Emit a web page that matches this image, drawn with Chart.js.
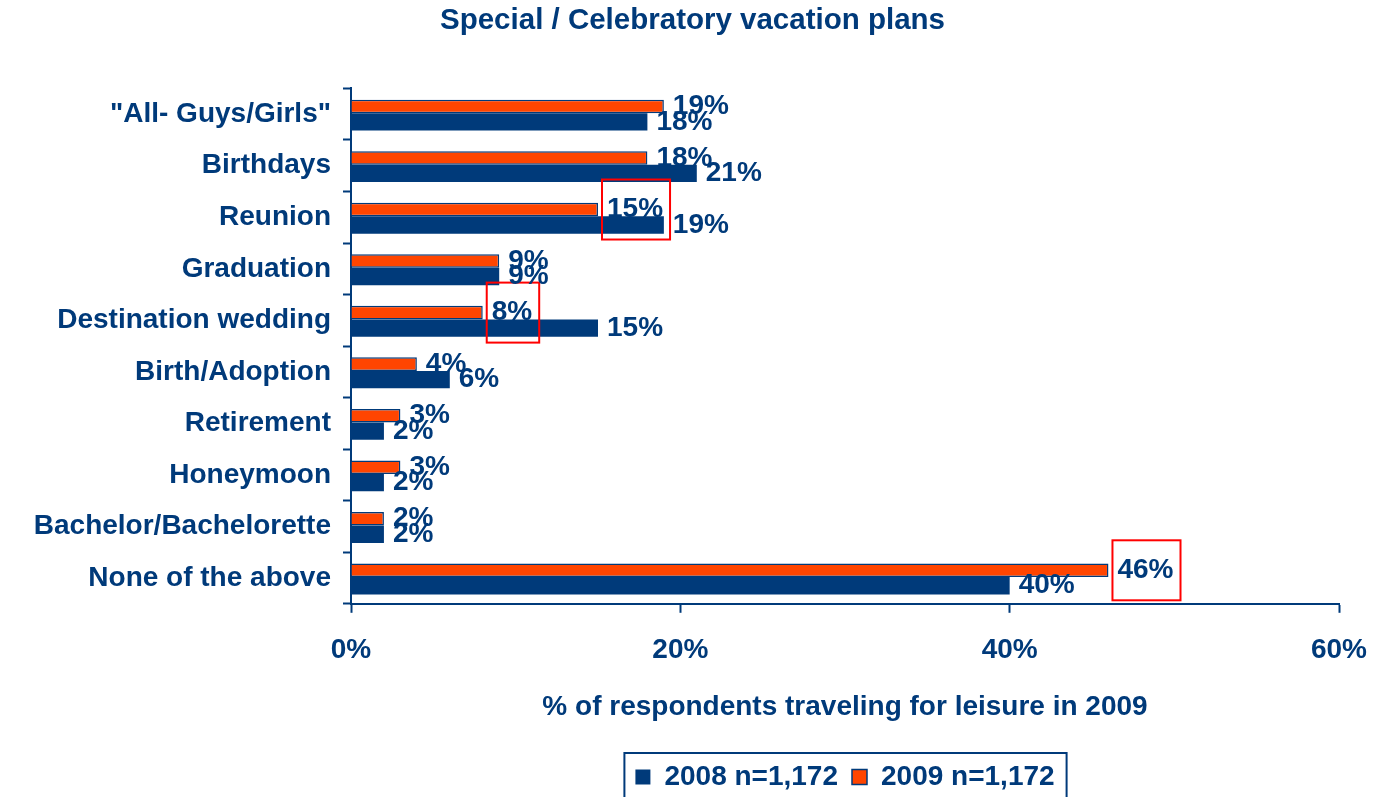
<!DOCTYPE html>
<html>
<head>
<meta charset="utf-8">
<title>Special / Celebratory vacation plans</title>
<script src="https://cdn.jsdelivr.net/npm/chart.js@4"></script>
<style>
  html, body { margin: 0; padding: 0; background: #fff; overflow: hidden; }
  #wrap { position: relative; width: 1375px; height: 801px; }
</style>
</head>
<body>
<div id="wrap"><canvas id="vacationChart"></canvas></div>
<script>
// Data
const categories = [
  '"All- Guys/Girls"',
  "Birthdays",
  "Reunion",
  "Graduation",
  "Destination wedding",
  "Birth/Adoption",
  "Retirement",
  "Honeymoon",
  "Bachelor/Bachelorette",
  "None of the above",
];
const values2008 = [18, 21, 19, 9, 15, 6, 2, 2, 2, 40];
const values2009 = [19, 18, 15, 9, 8, 4, 3, 3, 2, 46];
const xTicks = [0, 20, 40, 60];
const boxed2009 = ["Reunion", "Destination wedding", "None of the above"];

const NAVY = "#003A7A";
const ORANGE = "#FF4500";
const FONT = "'Liberation Sans', Arial, Helvetica, sans-serif";

Chart.defaults.font.family = FONT;
Chart.defaults.font.weight = "bold";
Chart.defaults.font.size = 28;
Chart.defaults.color = NAVY;

// Value labels at the bar ends, with red frames on the highlighted 2009 values
const valueLabels = {
  id: "valueLabels",
  afterDatasetsDraw(chart) {
    const ctx = chart.ctx;
    ctx.save();
    ctx.font = "bold 28px " + FONT;
    ctx.textAlign = "left";
    ctx.textBaseline = "middle";
    chart.data.datasets.forEach((ds, di) => {
      const meta = chart.getDatasetMeta(di);
      meta.data.forEach((bar, i) => {
        const text = ds.data[i] + "%";
        ctx.fillStyle = NAVY;
        ctx.fillText(text, bar.x + 9, bar.y);
        if (di === 0 && boxed2009.includes(categories[i])) {
          const w = ctx.measureText(text).width;
          ctx.strokeStyle = "#FF0000";
          ctx.lineWidth = 2;
          ctx.strokeRect(bar.x + 4, bar.y - 30, w + 12, 60);
        }
      });
    });
    ctx.restore();
  },
};

// Centre the legend under the plot area and frame it; nudge the title right
const legendFrame = {
  id: "legendFrame",
  afterLayout(chart) {
    chart.legend.left = chart.chartArea.left;
    chart.legend.right = chart.chartArea.right;
    chart.titleBlock.left = 0;
    chart.titleBlock.right = chart.width + 10;
  },
  afterDraw(chart) {
    const boxes = chart.legend.legendHitBoxes;
    if (!boxes || !boxes.length) return;
    const first = boxes[0];
    const last = boxes[boxes.length - 1];
    const ctx = chart.ctx;
    const midY = first.top + first.height / 2;
    ctx.save();
    ctx.strokeStyle = NAVY;
    ctx.lineWidth = 2;
    ctx.strokeRect(first.left - 11, midY - 24, last.left + last.width - first.left + 23, 60);
    ctx.restore();
  },
};

new Chart(document.getElementById("vacationChart"), {
  type: "bar",
  data: {
    labels: categories,
    datasets: [
      {
        label: "2009 n=1,172",
        data: values2009,
        backgroundColor: ORANGE,
        borderColor: NAVY,
        borderWidth: 1.5,
        barPercentage: 0.88,
        categoryPercentage: 0.6,
      },
      {
        label: "2008 n=1,172",
        data: values2008,
        backgroundColor: NAVY,
        borderColor: NAVY,
        borderWidth: 0,
        barPercentage: 1.12,
        categoryPercentage: 0.6,
      },
    ],
  },
  options: {
    indexAxis: "y",
    responsive: true,
    maintainAspectRatio: false,
    animation: false,
    layout: {
      padding: { top: 0, right: 36, bottom: 0, left: 0 },
    },
    scales: {
      x: {
        min: 0,
        max: 60,
        afterBuildTicks(scale) {
          scale.ticks = xTicks.map((v) => ({ value: v }));
        },
        afterFit(scale) {
          scale.paddingLeft = 0;
          scale.paddingRight = 0;
        },
        ticks: {
          padding: 21,
          maxRotation: 0,
          autoSkip: false,
          callback: (v) => v + "%",
        },
        grid: {
          drawOnChartArea: false,
          drawTicks: true,
          tickLength: 9,
          tickWidth: 2,
          tickColor: NAVY,
        },
        border: { color: NAVY, width: 2 },
        title: {
          display: true,
          text: "% of respondents traveling for leisure in 2009",
          padding: { top: 2, bottom: 25 },
        },
      },
      y: {
        afterFit(scale) {
          scale.width = 351;
        },
        ticks: { padding: 12, autoSkip: false },
        grid: {
          offset: true,
          drawOnChartArea: false,
          tickLength: 8,
          tickWidth: 2,
          tickColor: NAVY,
        },
        border: { color: NAVY, width: 2 },
      },
    },
    plugins: {
      title: {
        display: true,
        text: "Special / Celebratory vacation plans",
        font: { size: 29.5, weight: "bold" },
        padding: { top: 3, bottom: 50 },
      },
      legend: {
        position: "bottom",
        reverse: true,
        labels: {
          boxWidth: 15,
          boxHeight: 15,
          padding: 14,
        },
      },
      tooltip: { enabled: false },
    },
  },
  plugins: [valueLabels, legendFrame],
});
</script>
</body>
</html>
